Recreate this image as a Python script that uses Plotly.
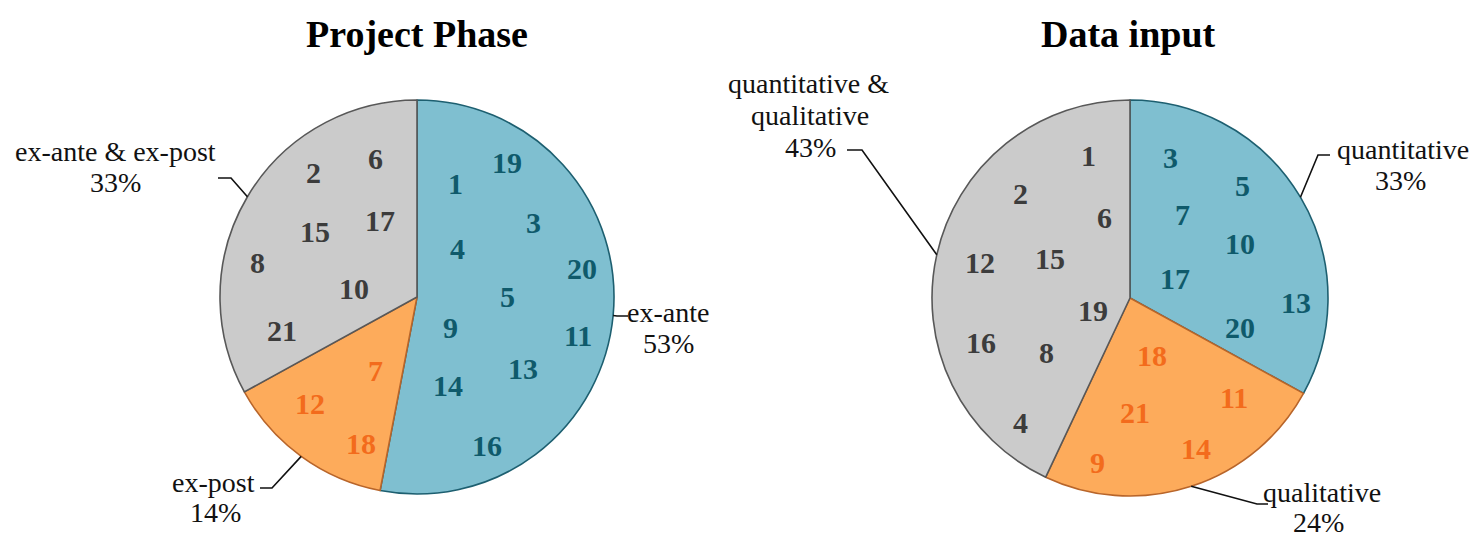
import math
import plotly.graph_objects as go

W, H = 1472, 539

# ---- data -------------------------------------------------------------
phase_title = "Project Phase"
phase_labels = ["ex-ante", "ex-post", "ex-ante & ex-post"]
phase_share = [53, 14, 33]
phase_ids = [
    [1, 19, 3, 4, 20, 5, 9, 11, 13, 14, 16],
    [7, 12, 18],
    [2, 6, 17, 15, 8, 10, 21],
]

input_title = "Data input"
input_labels = ["quantitative", "qualitative", "quantitative &\nqualitative"]
input_share = [33, 24, 43]
input_ids = [
    [3, 5, 7, 10, 17, 20, 13],
    [18, 11, 21, 14, 9],
    [1, 2, 6, 12, 15, 19, 16, 8, 4],
]

# ---- styling ----------------------------------------------------------
FILL = ["#7fbfd0", "#fdab5b", "#cbcbcb"]
EDGE = ["#1d5f70", "#b8652a", "#585858"]
NUM_COLOR = ["#0f5a6b", "#f36b1c", "#3c3c3c"]
SERIF = "Liberation Serif, Times New Roman, serif"

# placement of each pie (pixels) and of the study ids inside the slices
pies = [
    dict(
        title=phase_title, labels=phase_labels, share=phase_share, ids=phase_ids,
        cx=417, cy=297, r=197, title_xy=(417, 34),
        id_offsets={
            2: (-104, -124), 6: (-42, -139), 17: (-37, -76), 15: (-102, -65),
            8: (-160, -35), 10: (-63, -9), 21: (-135, 33),
            1: (38, -114), 19: (90, -135), 3: (116, -75), 4: (40, -49),
            20: (165, -29), 5: (91, 0), 9: (33, 30), 11: (161, 38),
            13: (106, 71), 14: (31, 88), 16: (70, 148),
            7: (-42, 73), 12: (-107, 106), 18: (-56, 146),
        },
        leaders=[
            dict(path=[(617, 316), (628, 316)], text_xy=[(668, 312), (668, 343)]),
            dict(path=[(272, 488), (260, 488)], text_xy=[(213, 482), (215, 512)]),
            dict(path=[(231, 178), (218, 178)], text_xy=[(115, 151), (115, 182)]),
        ],
    ),
    dict(
        title=input_title, labels=input_labels, share=input_share, ids=input_ids,
        cx=1130, cy=298, r=198, title_xy=(1128, 34),
        id_offsets={
            1: (-42, -143), 2: (-110, -105), 6: (-26, -80), 12: (-150, -36),
            15: (-80, -40), 19: (-37, 12), 16: (-149, 44), 8: (-84, 54),
            4: (-110, 124),
            3: (40, -141), 5: (112, -113), 7: (52, -83), 10: (110, -55),
            17: (45, -20), 20: (110, 29), 13: (166, 4),
            18: (22, 57), 11: (104, 99), 21: (5, 114), 14: (66, 150),
            9: (-33, 164),
        },
        leaders=[
            dict(path=[(1318, 155), (1330, 155)], text_xy=[(1403, 149), (1400, 181)]),
            dict(path=[(1257, 504), (1268, 504)], text_xy=[(1322, 492), (1318, 522)]),
            dict(path=[(862, 150), (847, 150)],
                 text_xy=[(808, 83), (810, 115), (810, 147)]),
        ],
    ),
]


def px(x):
    return x / W


def py(y):
    return 1 - y / H


fig = go.Figure()
annotations = []
shapes = []

for pie in pies:
    cx, cy, r = pie["cx"], pie["cy"], pie["r"]
    fig.add_trace(go.Pie(
        labels=pie["labels"],
        values=pie["share"],
        sort=False,
        direction="clockwise",
        rotation=0,
        textinfo="none",
        hoverinfo="label+percent",
        showlegend=False,
        marker=dict(colors=FILL, line=dict(color=EDGE, width=1.6)),
        domain=dict(x=[px(cx - r), px(cx + r)], y=[py(cy + r), py(cy - r)]),
    ))

    # title
    tx, ty = pie["title_xy"]
    annotations.append(dict(
        x=px(tx), y=py(ty), xref="paper", yref="paper", showarrow=False,
        text=f"<b>{pie['title']}</b>", xanchor="center", yanchor="middle",
        font=dict(family=SERIF, size=38, color="#000000"),
    ))

    total = sum(pie["share"])
    start = 0.0
    for k, (lab, val, ids) in enumerate(zip(pie["labels"], pie["share"], pie["ids"])):
        # study ids inside the slice
        for sid in ids:
            dx, dy = pie["id_offsets"][sid]
            annotations.append(dict(
                x=px(cx + dx), y=py(cy + dy), xref="paper", yref="paper",
                showarrow=False, text=f"<b>{sid}</b>",
                xanchor="center", yanchor="middle",
                font=dict(family=SERIF, size=30, color=NUM_COLOR[k]),
            ))

        # leader line from the middle of the slice's arc
        mid = (start + val / 2) / total * 2 * math.pi
        start += val
        ex, ey = cx + r * math.sin(mid), cy - r * math.cos(mid)
        pts = [(ex, ey)] + pie["leaders"][k]["path"]
        path = "M " + " L ".join(f"{px(x)},{py(y)}" for x, y in pts)
        shapes.append(dict(type="path", path=path, xref="paper", yref="paper",
                           line=dict(color="#111111", width=1.6), layer="above"))

        lines = lab.split("\n") + [f"{val}%"]
        for line, (lx, ly) in zip(lines, pie["leaders"][k]["text_xy"]):
            annotations.append(dict(
                x=px(lx), y=py(ly), xref="paper", yref="paper", showarrow=False,
                text=line.replace("&", "&amp;"), xanchor="center", yanchor="middle",
                font=dict(family=SERIF, size=28, color="#111111"),
            ))

fig.update_layout(
    width=W, height=H,
    margin=dict(l=0, r=0, t=0, b=0),
    paper_bgcolor="white", plot_bgcolor="white",
    annotations=annotations, shapes=shapes,
)

fig.write_html("out.html")
